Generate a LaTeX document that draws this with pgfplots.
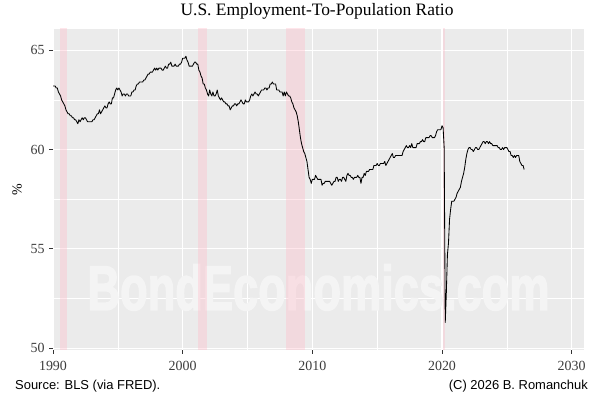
\documentclass[border=0pt]{standalone}
\usepackage{pgfplots}
\usepackage{pgfplotstable}
\pgfplotsset{compat=1.18}
\usepackage{fontspec}
\setmainfont{Liberation Serif}
\newfontfamily\arial{Liberation Sans}
\newfontfamily\wmfont[FakeBold=2.5]{Liberation Sans Bold}
\definecolor{panelgray}{RGB}{235,235,235}
\definecolor{wmark}{RGB}{244,244,244}
\definecolor{recpink}{RGB}{255,190,203}
\definecolor{grey30}{RGB}{60,60,60}
\definecolor{grey20}{RGB}{51,51,51}

\pgfplotstableread[row sep=\\]{v\\
63.2\\ 63.2\\ 63.2\\ 63.1\\ 63.1\\ 62.9\\ 62.8\\ 62.7\\ 62.5\\ 62.4\\ 62.3\\ 62.2\\
62.0\\ 61.9\\ 61.8\\ 61.8\\ 61.7\\ 61.7\\ 61.6\\ 61.6\\ 61.5\\ 61.5\\ 61.4\\ 61.3\\
61.5\\ 61.4\\ 61.5\\ 61.6\\ 61.5\\ 61.6\\ 61.6\\ 61.5\\ 61.4\\ 61.4\\ 61.4\\ 61.4\\
61.4\\ 61.5\\ 61.5\\ 61.6\\ 61.7\\ 61.8\\ 61.8\\ 62.0\\ 61.8\\ 61.9\\ 62.0\\ 62.1\\
62.2\\ 62.1\\ 62.1\\ 62.3\\ 62.4\\ 62.3\\ 62.3\\ 62.6\\ 62.6\\ 62.8\\ 63.0\\ 63.1\\
63.0\\ 63.1\\ 63.0\\ 62.9\\ 62.7\\ 62.8\\ 62.8\\ 62.7\\ 62.8\\ 62.8\\ 62.7\\ 62.7\\
62.7\\ 62.9\\ 62.9\\ 63.0\\ 63.0\\ 63.2\\ 63.3\\ 63.3\\ 63.4\\ 63.4\\ 63.4\\ 63.4\\
63.5\\ 63.5\\ 63.6\\ 63.7\\ 63.8\\ 63.8\\ 63.9\\ 63.9\\ 63.9\\ 64.0\\ 64.1\\ 64.0\\
64.1\\ 64.0\\ 64.1\\ 64.1\\ 64.1\\ 64.0\\ 64.0\\ 64.1\\ 64.2\\ 64.1\\ 64.1\\ 64.3\\
64.3\\ 64.4\\ 64.2\\ 64.2\\ 64.2\\ 64.3\\ 64.2\\ 64.2\\ 64.2\\ 64.3\\ 64.3\\ 64.4\\
64.6\\ 64.6\\ 64.6\\ 64.7\\ 64.5\\ 64.4\\ 64.2\\ 64.2\\ 64.2\\ 64.2\\ 64.3\\ 64.4\\
64.4\\ 64.3\\ 64.3\\ 64.0\\ 63.9\\ 63.7\\ 63.6\\ 63.3\\ 63.3\\ 63.1\\ 63.0\\ 62.8\\
62.7\\ 63.0\\ 62.8\\ 62.7\\ 62.9\\ 62.7\\ 62.7\\ 62.8\\ 63.0\\ 62.7\\ 62.6\\ 62.5\\
62.6\\ 62.5\\ 62.4\\ 62.4\\ 62.3\\ 62.3\\ 62.2\\ 62.2\\ 62.0\\ 62.1\\ 62.2\\ 62.2\\
62.3\\ 62.3\\ 62.2\\ 62.3\\ 62.3\\ 62.4\\ 62.5\\ 62.4\\ 62.3\\ 62.3\\ 62.5\\ 62.4\\
62.4\\ 62.4\\ 62.5\\ 62.7\\ 62.8\\ 62.7\\ 62.8\\ 62.9\\ 62.8\\ 62.8\\ 62.7\\ 62.8\\
62.9\\ 63.0\\ 63.0\\ 63.0\\ 63.1\\ 63.1\\ 63.0\\ 63.1\\ 63.1\\ 63.3\\ 63.3\\ 63.4\\
63.3\\ 63.3\\ 63.3\\ 63.0\\ 63.0\\ 63.0\\ 62.9\\ 62.9\\ 62.9\\ 62.7\\ 62.9\\ 62.7\\
62.9\\ 62.8\\ 62.7\\ 62.7\\ 62.6\\ 62.4\\ 62.3\\ 62.1\\ 62.0\\ 61.9\\ 61.7\\ 61.4\\
61.0\\ 60.6\\ 60.3\\ 60.1\\ 59.9\\ 59.8\\ 59.6\\ 59.4\\ 59.0\\ 58.6\\ 58.5\\ 58.3\\
58.5\\ 58.5\\ 58.5\\ 58.7\\ 58.6\\ 58.5\\ 58.5\\ 58.5\\ 58.5\\ 58.2\\ 58.3\\ 58.3\\
58.4\\ 58.4\\ 58.4\\ 58.4\\ 58.4\\ 58.3\\ 58.2\\ 58.3\\ 58.4\\ 58.4\\ 58.6\\ 58.6\\
58.4\\ 58.5\\ 58.5\\ 58.4\\ 58.6\\ 58.6\\ 58.5\\ 58.4\\ 58.7\\ 58.8\\ 58.7\\ 58.7\\
58.6\\ 58.6\\ 58.5\\ 58.6\\ 58.6\\ 58.6\\ 58.7\\ 58.6\\ 58.6\\ 58.3\\ 58.6\\ 58.6\\
58.8\\ 58.7\\ 58.9\\ 58.9\\ 58.9\\ 59.0\\ 59.0\\ 59.0\\ 59.0\\ 59.2\\ 59.2\\ 59.2\\
59.3\\ 59.2\\ 59.2\\ 59.3\\ 59.3\\ 59.3\\ 59.3\\ 59.4\\ 59.2\\ 59.3\\ 59.4\\ 59.5\\
59.6\\ 59.7\\ 59.8\\ 59.6\\ 59.6\\ 59.7\\ 59.7\\ 59.7\\ 59.7\\ 59.7\\ 59.7\\ 59.7\\
59.9\\ 60.0\\ 60.1\\ 60.2\\ 60.1\\ 60.1\\ 60.2\\ 60.1\\ 60.3\\ 60.1\\ 60.1\\ 60.1\\
60.1\\ 60.3\\ 60.3\\ 60.3\\ 60.4\\ 60.4\\ 60.5\\ 60.4\\ 60.4\\ 60.6\\ 60.6\\ 60.6\\
60.6\\ 60.7\\ 60.7\\ 60.6\\ 60.6\\ 60.6\\ 60.7\\ 60.9\\ 61.0\\ 61.0\\ 61.0\\ 61.0\\
61.2\\ 61.1\\ 60.1\\ 51.3\\ 52.8\\ 54.7\\ 55.3\\ 56.5\\ 57.0\\ 57.4\\ 57.4\\ 57.4\\
57.5\\ 57.6\\ 57.8\\ 57.9\\ 58.0\\ 58.1\\ 58.4\\ 58.6\\ 58.8\\ 59.1\\ 59.5\\ 59.8\\
60.0\\ 60.1\\ 60.1\\ 60.0\\ 60.0\\ 59.9\\ 60.0\\ 60.1\\ 60.1\\ 60.0\\ 60.0\\ 60.1\\
60.2\\ 60.3\\ 60.4\\ 60.4\\ 60.3\\ 60.4\\ 60.4\\ 60.3\\ 60.4\\ 60.3\\ 60.3\\ 60.2\\
60.2\\ 60.2\\ 60.2\\ 60.2\\ 60.1\\ 60.1\\ 60.0\\ 60.0\\ 60.1\\ 60.0\\ 60.1\\ 60.1\\
60.1\\ 60.0\\ 59.9\\ 59.9\\ 59.7\\ 59.7\\ 59.6\\ 59.7\\ 59.6\\ 59.7\\ 59.7\\ 59.7\\
59.4\\ 59.3\\ 59.2\\ 59.2\\ 59.0\\
}\emratio

\begin{document}
\begin{tikzpicture}
\path[use as bounding box] (0,0) rectangle (600bp,400bp);
\begin{axis}[
  at={(53bp,50bp)}, anchor=south west,
  scale only axis, width=531bp, height=321bp,
  xmin=1990, xmax=2030.95, ymin=49.91, ymax=66.07,
  axis background/.style={fill=panelgray},
  axis line style={draw=none},
  xtick={1990,2000,2010,2020,2030},
  minor xtick={1995,2005,2015,2025},
  ytick={50,55,60,65},
  minor ytick={52.5,57.5,62.5},
  grid=both,
  major grid style={white, line width=1.1bp},
  minor grid style={white, line width=0.55bp},
  xtick pos=bottom, ytick pos=left,
  tick align=outside,
  major tick length=3.8bp, minor tick length=0bp,
  tick style={grey20, line width=1bp},
  /pgf/number format/1000 sep={},
  /pgf/number format/assume math mode=true,
  ticklabel style={font=\fontsize{14}{14}\selectfont, text=grey30},
  xticklabel style={yshift=-4bp},
  yticklabel style={xshift=-1bp},
  clip=true,
]
\node[text=wmark, font=\wmfont\fontsize{63}{63}\selectfont, inner sep=0pt]
  at (rel axis cs:0.5,0.195) {\scalebox{0.72}[1]{BondEconomics.com}};
\addplot[draw=none, fill=recpink, fill opacity=0.38] coordinates {(1990.56,40) (1991.1,40) (1991.1,70) (1990.56,70)} -- cycle;
\addplot[draw=none, fill=recpink, fill opacity=0.38] coordinates {(2001.2,40) (2001.85,40) (2001.85,70) (2001.2,70)} -- cycle;
\addplot[draw=none, fill=recpink, fill opacity=0.38] coordinates {(2007.95,40) (2009.45,40) (2009.45,70) (2007.95,70)} -- cycle;
\addplot[draw=none, fill=recpink, fill opacity=0.38] coordinates {(2020.08,40) (2020.25,40) (2020.25,70) (2020.08,70)} -- cycle;
\addplot[black, line width=0.85bp, line join=round] table[x expr={1990+\coordindex/12}, y=v] {\emratio};
\end{axis}
\node[anchor=base, font=\fontsize{17.5}{17.5}\selectfont] at (317bp,384.5bp) {U.S. Employment-To-Population Ratio};
\node[rotate=90, font=\fontsize{14}{14}\selectfont, text=black] at (17bp,210.5bp) {\%};
\node[anchor=base west, inner sep=0pt, font=\arial\fontsize{13}{13}\selectfont] at (15bp,10.5bp) {Source: BLS (via FRED).};
\node[anchor=base east, inner sep=0pt, font=\arial\fontsize{13}{13}\selectfont] at (588bp,10.5bp) {(C) 2026 B. Romanchuk};
\end{tikzpicture}
\end{document}
